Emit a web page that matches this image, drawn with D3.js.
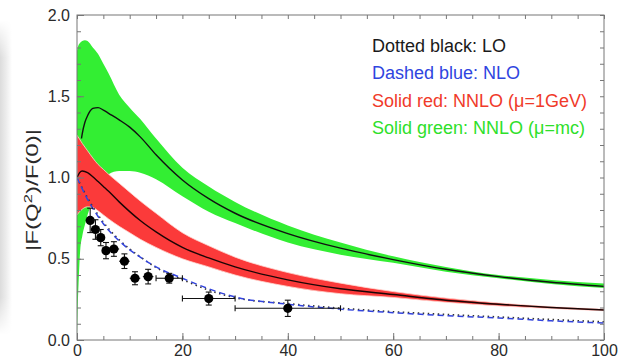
<!DOCTYPE html>
<html>
<head>
<meta charset="utf-8">
<script src="https://cdn.jsdelivr.net/npm/d3@7"></script>
<style>
  html, body { margin: 0; padding: 0; background: #fff; }
  svg { display: block; }
  text { font-family: "Liberation Sans", Arial, sans-serif; }
</style>
</head>
<body>
<svg id="chart" width="626" height="361"></svg>
<script>
// Form factor ratio |F(Q^2)/F(0)| versus Q^2

// NNLO band, mu = mc (green)
const greenX    = [0, 0.15, 0.3, 0.6, 1, 1.5, 2, 3, 4, 5, 6, 8, 10, 12, 15, 20, 25, 30, 40, 50, 60, 70, 80, 90, 100];
const greenLow  = [0.02, 0.22, 0.35, 0.55, 0.64, 0.71, 0.77, 0.85, 0.92, 0.98, 1.02, 1.04, 1.04, 1.03, 0.99, 0.885, 0.79, 0.72, 0.60, 0.525, 0.475, 0.42, 0.38, 0.345, 0.32];
const greenHigh = [1.78, 1.80, 1.815, 1.83, 1.84, 1.845, 1.84, 1.80, 1.76, 1.70, 1.64, 1.51, 1.43, 1.36, 1.24, 1.06, 0.945, 0.85, 0.705, 0.60, 0.515, 0.45, 0.40, 0.37, 0.348];
const greenMidX = [0.85, 1, 1.5, 2, 2.5, 3, 4, 5, 6, 8, 10, 12, 15, 20, 25, 30, 40, 50, 60, 70, 80, 90, 100];
const greenMid  = [1.24, 1.27, 1.34, 1.38, 1.41, 1.425, 1.43, 1.415, 1.395, 1.355, 1.31, 1.25, 1.14, 0.985, 0.87, 0.78, 0.655, 0.565, 0.495, 0.435, 0.39, 0.355, 0.33];

// NNLO band, mu = 1 GeV (red)
const redX    = [0, 0.5, 1, 2, 3, 4, 5, 6, 8, 10, 12, 15, 20, 25, 30, 40, 50, 60, 70, 80, 90, 100];
const redHigh = [1.26, 1.235, 1.21, 1.165, 1.12, 1.08, 1.05, 1.02, 0.965, 0.91, 0.855, 0.78, 0.66, 0.58, 0.51, 0.415, 0.35, 0.298, 0.258, 0.228, 0.205, 0.19];
const redMid  = [1.00, 1.03, 1.04, 1.03, 1.005, 0.975, 0.945, 0.915, 0.85, 0.79, 0.735, 0.665, 0.57, 0.505, 0.45, 0.37, 0.315, 0.28, 0.245, 0.22, 0.20, 0.185];
const redLow  = [0.77, 0.79, 0.805, 0.82, 0.815, 0.795, 0.77, 0.745, 0.70, 0.66, 0.62, 0.57, 0.50, 0.45, 0.40, 0.33, 0.285, 0.262, 0.232, 0.21, 0.194, 0.18];

// LO (dotted) and NLO (dashed) curves
const lineX = [0, 1, 2, 3, 4, 5, 6, 8, 10, 12, 15, 20, 25, 30, 40, 50, 60, 70, 80, 90, 100];
const nlo   = [1.0, 0.93, 0.865, 0.81, 0.76, 0.715, 0.675, 0.61, 0.555, 0.51, 0.45, 0.38, 0.315, 0.265, 0.22, 0.19, 0.168, 0.15, 0.135, 0.118, 0.104];
const lo    = [1.0, 0.935, 0.875, 0.82, 0.77, 0.725, 0.685, 0.617, 0.56, 0.512, 0.446, 0.372, 0.307, 0.26, 0.224, 0.196, 0.174, 0.157, 0.142, 0.126, 0.112];

// Measured points with errors
const dataX    = [2.5, 3.5, 4.5, 5.5, 7.0, 9.0, 11.0, 13.5, 17.5, 25.0, 40.0];
const dataXErr = [0.5, 0.5, 0.5, 0.5, 1.0, 1.0, 1.0, 1.0, 2.5, 5.0, 10.0];
const dataY    = [0.736, 0.68, 0.63, 0.55, 0.56, 0.485, 0.38, 0.39, 0.38, 0.255, 0.195];
const dataYErr = [0.075, 0.06, 0.05, 0.05, 0.045, 0.045, 0.04, 0.045, 0.03, 0.04, 0.05];

// Axis ticks
const xMajor = [0, 20, 40, 60, 80, 100];
const xLabels = ["0", "20", "40", "60", "80", "100"];
const yMajor = [0, 0.5, 1.0, 1.5, 2.0];
const yLabels = ["0.0", "0.5", "1.0", "1.5", "2.0"];

// Legend
const legendText   = ["Dotted black: LO", "Dashed blue: NLO", "Solid red: NNLO (\u03bc=1GeV)", "Solid green: NNLO (\u03bc=mc)"];
const legendColors = ["#1a1a1a", "#2f45e0", "#f03a2a", "#2ee02a"];

const svg = d3.select("#chart");
const L = 77, R = 604, T = 15, B = 340;
const x = d3.scaleLinear().domain([0, 100]).range([L, R]);
const y = d3.scaleLinear().domain([0, 2]).range([B, T]);

// soft grey edge on the left
const defs = svg.append("defs");
const grad = defs.append("linearGradient").attr("id", "edge").attr("x1", 0).attr("x2", 1);
grad.append("stop").attr("offset", 0).attr("stop-color", "#dcdcdc");
grad.append("stop").attr("offset", 0.5).attr("stop-color", "#ececec");
grad.append("stop").attr("offset", 1).attr("stop-color", "#ffffff");
const vfade = defs.append("linearGradient").attr("id", "vfade").attr("x1", 0).attr("x2", 0).attr("y1", 0).attr("y2", 1);
vfade.append("stop").attr("offset", 0).attr("stop-color", "#fff").attr("stop-opacity", 0);
vfade.append("stop").attr("offset", 0.12).attr("stop-color", "#fff").attr("stop-opacity", 1);
vfade.append("stop").attr("offset", 0.88).attr("stop-color", "#fff").attr("stop-opacity", 1);
vfade.append("stop").attr("offset", 1).attr("stop-color", "#fff").attr("stop-opacity", 0);
defs.append("mask").attr("id", "edgemask").append("rect")
  .attr("x", 0).attr("y", 20).attr("width", 16).attr("height", 315).attr("fill", "url(#vfade)");
svg.append("rect").attr("x", 0).attr("y", 20).attr("width", 12).attr("height", 315)
  .attr("fill", "url(#edge)").attr("mask", "url(#edgemask)");

defs.append("clipPath").attr("id", "plot").append("rect")
  .attr("x", L).attr("y", T).attr("width", R - L).attr("height", B - T);

const plot = svg.append("g").attr("clip-path", "url(#plot)");

const band = (xs, lo_, hi_) => d3.area()
  .x((d, i) => x(xs[i]))
  .y0((d, i) => y(lo_[i]))
  .y1((d, i) => y(hi_[i]))
  .curve(d3.curveMonotoneX)(xs);
const line = (xs, ys) => d3.line()
  .x((d, i) => x(xs[i]))
  .y((d, i) => y(ys[i]))
  .curve(d3.curveMonotoneX)(xs);

plot.append("path").attr("d", band(greenX, greenLow, greenHigh)).attr("fill", "#33ee33");
plot.append("path").attr("d", band(redX, redLow, redHigh)).attr("fill", "#fb3a3a")
  .attr("stroke", "#ffd6cf").attr("stroke-width", 0.8);

plot.append("path").attr("d", line(greenMidX, greenMid)).attr("fill", "none").attr("stroke", "#111").attr("stroke-width", 1.4);
plot.append("path").attr("d", line(redX, redMid)).attr("fill", "none").attr("stroke", "#1a0505").attr("stroke-width", 1.4);

plot.append("path").attr("d", line(lineX, lo)).attr("fill", "none")
  .attr("stroke", "#333").attr("stroke-width", 1.6).attr("stroke-dasharray", "1.5,3.5");
plot.append("path").attr("d", line(lineX, nlo)).attr("fill", "none")
  .attr("stroke", "#3344dd").attr("stroke-width", 1.5).attr("stroke-dasharray", "6,4");

// data points with error bars
const pts = svg.append("g");
dataX.forEach((dx, i) => {
  const cx = x(dx), cy = y(dataY[i]);
  const x0 = x(dx - dataXErr[i]), x1 = x(dx + dataXErr[i]);
  const y0 = y(dataY[i] - dataYErr[i]), y1 = y(dataY[i] + dataYErr[i]);
  const g = pts.append("g").attr("stroke", "#111").attr("stroke-width", 1.1);
  g.append("line").attr("x1", x0).attr("x2", x1).attr("y1", cy).attr("y2", cy);
  g.append("line").attr("x1", cx).attr("x2", cx).attr("y1", y0).attr("y2", y1);
  g.append("line").attr("x1", cx - 3).attr("x2", cx + 3).attr("y1", y0).attr("y2", y0);
  g.append("line").attr("x1", cx - 3).attr("x2", cx + 3).attr("y1", y1).attr("y2", y1);
  if (dataXErr[i] >= 2) {
    g.append("line").attr("x1", x0).attr("x2", x0).attr("y1", cy - 3).attr("y2", cy + 3);
    g.append("line").attr("x1", x1).attr("x2", x1).attr("y1", cy - 3).attr("y2", cy + 3);
  }
  pts.append("circle").attr("cx", cx).attr("cy", cy).attr("r", 4.6).attr("fill", "#000");
});

// frame and ticks
const axisColor = "#777";
const xMinor = d3.range(0, 101, 5);
const yMinor = d3.range(0, 2.001, 0.1).map(v => +v.toFixed(2));

function styleAxis(g) {
  g.select(".domain").remove();
  g.selectAll(".tick line").attr("stroke", axisColor);
  g.selectAll(".tick text").attr("fill", "#2a2a2a").attr("font-size", 16);
}

svg.append("g").attr("transform", `translate(0,${B})`)
  .call(d3.axisBottom(x).tickValues(xMinor).tickSizeInner(-4).tickSizeOuter(0).tickFormat(""))
  .call(styleAxis);
svg.append("g").attr("transform", `translate(0,${B})`)
  .call(d3.axisBottom(x).tickValues(xMajor).tickSizeInner(-7).tickSizeOuter(0).tickPadding(5)
    .tickFormat((d, i) => xLabels[i]))
  .call(styleAxis);
svg.append("g").attr("transform", `translate(0,${T})`)
  .call(d3.axisTop(x).tickValues(xMinor).tickSizeInner(-4).tickSizeOuter(0).tickFormat(""))
  .call(styleAxis);

svg.append("g").attr("transform", `translate(${L},0)`)
  .call(d3.axisLeft(y).tickValues(yMinor).tickSizeInner(-4).tickSizeOuter(0).tickFormat(""))
  .call(styleAxis);
svg.append("g").attr("transform", `translate(${L},0)`)
  .call(d3.axisLeft(y).tickValues(yMajor).tickSizeInner(-7).tickSizeOuter(0).tickPadding(7)
    .tickFormat((d, i) => yLabels[i]))
  .call(styleAxis);
svg.append("g").attr("transform", `translate(${R},0)`)
  .call(d3.axisRight(y).tickValues(yMinor).tickSizeInner(-4).tickSizeOuter(0).tickFormat(""))
  .call(styleAxis);

svg.append("rect").attr("x", L).attr("y", T).attr("width", R - L).attr("height", B - T)
  .attr("fill", "none").attr("stroke", axisColor).attr("stroke-width", 1);

// y-axis title, drawn tall and narrow
const yt = svg.append("text")
  .attr("transform", `translate(38,190) rotate(-90)`)
  .attr("text-anchor", "middle").attr("font-size", 16).attr("fill", "#2a2a2a")
  .attr("textLength", 122).attr("lengthAdjust", "spacingAndGlyphs");
yt.append("tspan").text("|F(Q");
yt.append("tspan").attr("font-size", 11).attr("dy", -6).text("2");
yt.append("tspan").attr("dy", 6).text(")/F(0)|");

// legend
svg.append("g").selectAll("text").data(legendText).join("text")
  .attr("x", 372).attr("y", (d, i) => 51.5 + i * 27.5)
  .attr("font-size", 18).attr("fill", (d, i) => legendColors[i])
  .text(d => d);
</script>
</body>
</html>
